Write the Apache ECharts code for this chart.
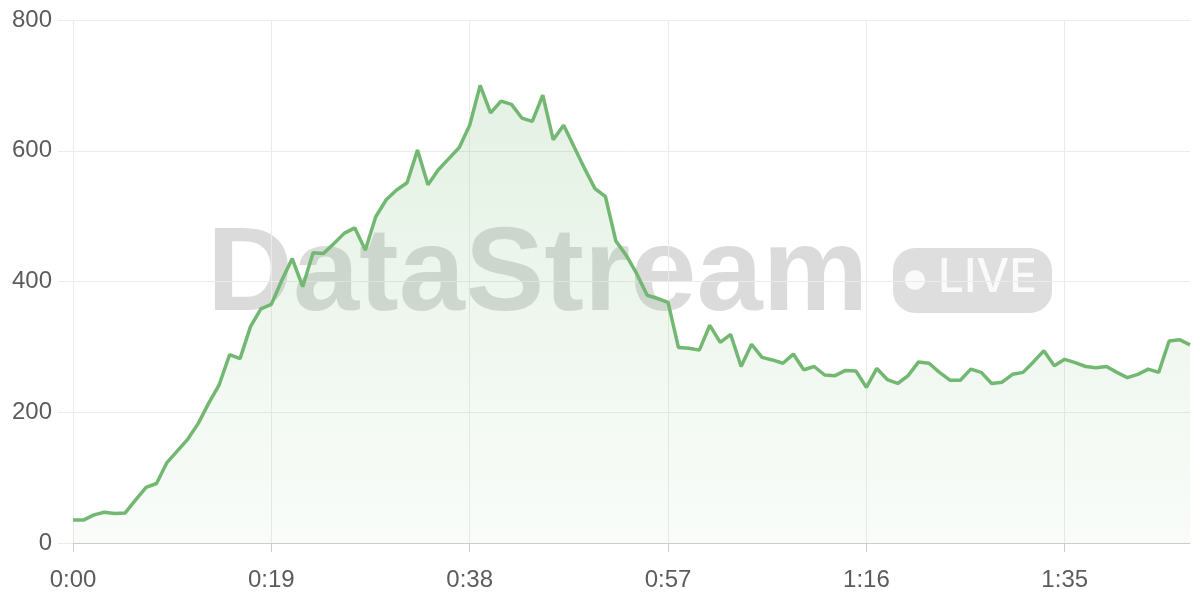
<!DOCTYPE html>
<html>
<head>
<meta charset="utf-8">
<script src="https://cdn.jsdelivr.net/npm/echarts@6/dist/echarts.min.js"></script>
<style>
  html, body { margin: 0; padding: 0; background: #fff; }
  #chart { width: 1200px; height: 600px; }
</style>
</head>
<body>
<div id="chart"></div>
<script>
// Values per second
const values = [
  35, 35, 43, 47, 45, 46, 66, 85, 91, 123,
  141, 159, 183, 214, 242, 288, 282, 331, 358, 365,
  402, 435, 392, 444, 443, 458, 474, 482, 448, 499,
  525, 540, 551, 601, 548, 571, 588, 605, 639, 700,
  658, 676, 671, 650, 645, 685, 617, 639, 606, 573,
  542, 530, 462, 440, 412, 379, 374, 368, 299, 298,
  295, 333, 307, 319, 270, 304, 284, 280, 275, 289,
  265, 270, 257, 256, 264, 263, 238, 267, 250, 244,
  256, 277, 275, 261, 249, 249, 266, 261, 244, 246,
  258, 261, 277, 294, 271, 281, 276, 270, 268, 270,
  261, 253, 258, 266, 261, 309, 311, 303
];
// Time labels m:ss for each second
const categories = values.map(function (_, i) {
  const m = Math.floor(i / 60), s = i % 60;
  return m + ':' + (s < 10 ? '0' : '') + s;
});
const yTicks = [0, 200, 400, 600, 800];
const watermarkText = 'DataStream';
const liveText = 'LIVE';

const chart = echarts.init(document.getElementById('chart'), null, { renderer: 'canvas' });
const FONT = '"Liberation Sans", Arial, sans-serif';
chart.setOption({
  animation: false,
  backgroundColor: '#ffffff',
  grid: { left: 73, right: 10, top: 20, bottom: 57, containLabel: false },
  xAxis: {
    type: 'category',
    data: categories,
    boundaryGap: false,
    axisLine: { show: true, lineStyle: { color: '#cccccc', width: 1 } },
    axisTick: { show: true, interval: 18, length: 9, lineStyle: { color: '#cccccc' } },
    axisLabel: { interval: 18, color: '#5c5c5c', fontSize: 24, margin: 25, fontFamily: FONT },
    splitLine: { show: true, interval: 18, lineStyle: { color: '#ebebeb', width: 1 } }
  },
  yAxis: {
    type: 'value',
    min: yTicks[0],
    max: yTicks[yTicks.length - 1],
    interval: 200,
    axisLine: { show: false },
    axisTick: { show: true, length: 15, lineStyle: { color: '#ebebeb' } },
    axisLabel: { color: '#5c5c5c', fontSize: 24, margin: 21, fontFamily: FONT },
    splitLine: { show: true, lineStyle: { color: '#ebebeb', width: 1 } }
  },
  graphic: [
    {
      type: 'text', z: 0, silent: true,
      left: 207, top: 218,
      style: { text: watermarkText, font: 'bold 119px "Liberation Sans", Arial, sans-serif', fill: 'rgba(0,0,0,0.14)' }
    },
    {
      type: 'rect', z: 0, silent: true,
      shape: { x: 893, y: 248, width: 159, height: 65, r: 22 },
      style: { fill: 'rgba(0,0,0,0.13)' }
    },
    {
      type: 'circle', z: 0, silent: true,
      shape: { cx: 915, cy: 280, r: 10 },
      style: { fill: 'rgba(255,255,255,0.85)' }
    },
    {
      type: 'text', z: 0, silent: true,
      left: 938, top: 255,
      style: { text: liveText, font: '500 46px Inter, "Noto Sans", sans-serif', fill: 'rgba(255,255,255,0.85)' }
    }
  ],
  series: [{
    type: 'line',
    data: values,
    showSymbol: false,
    symbol: 'none',
    z: 3,
    lineStyle: { color: '#72b872', width: 3.5 },
    itemStyle: { color: '#72b872' },
    areaStyle: {
      color: new echarts.graphic.LinearGradient(0, 0, 0, 1, [
        { offset: 0, color: 'rgba(114,184,114,0.28)' },
        { offset: 1, color: 'rgba(114,184,114,0.06)' }
      ])
    }
  }]
});
</script>
</body>
</html>
